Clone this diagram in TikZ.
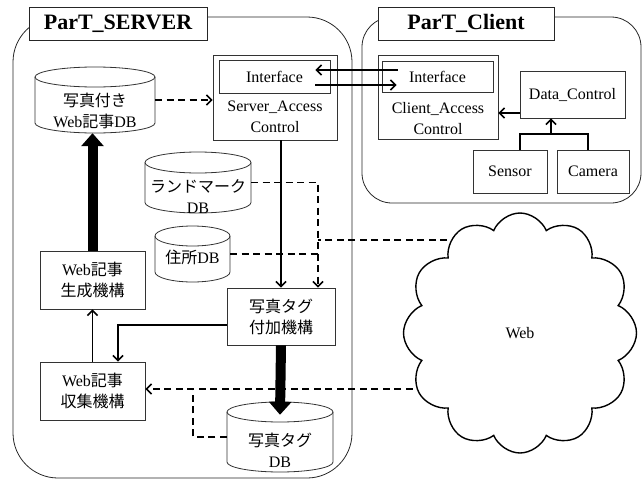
\documentclass[tikz,border=0pt]{standalone}
\usepackage{fontspec}
\setmainfont{Liberation Serif}
\newfontfamily\jp{Noto Sans CJK JP}
\usetikzlibrary{arrows.meta,shapes.symbols,calc}
\newcommand\dbcyl[8]{% name, cx, top, bottom, rx, ry, text y, text
  \path[draw=black!80, line width=0.8pt, fill=white]
    ({#2-#5},{#3+#6}) -- ({#2-#5},{#4-#6})
    arc[start angle=180, end angle=360, x radius=#5pt, y radius=#6pt]
    -- ({#2+#5},{#3+#6})
    arc[start angle=0, end angle=180, x radius=#5pt, y radius=#6pt] -- cycle;
  \draw[black!80, line width=0.8pt] ({#2-#5},{#3+#6})
    arc[start angle=180, end angle=360, x radius=#5pt, y radius=#6pt];
  \node[inner sep=0pt, minimum width={2*#5}, minimum height={#4-#3}] (#1) at (#2,{(#3+#4)/2}) {};
  \node[align=center] at (#2,#7) {#8};
}
\begin{document}
\begin{tikzpicture}[x=1pt, y=-1pt,
  font=\fontsize{16}{21}\selectfont,
  box/.style={draw=black!80, line width=0.8pt, fill=white, inner sep=0pt, align=center},
  frame/.style={draw=black!85, line width=0.8pt, rounded corners=#1},
  titlebox/.style={draw=black!85, line width=0.8pt, fill=white, inner sep=0pt,
    font=\fontsize{22}{26}\selectfont\bfseries},
  conn/.style={line width=1.6pt, -{Straight Barb[length=5pt,width=10pt]}},
  plain/.style={line width=1.6pt},
  dconn/.style={line width=1.6pt, dash pattern=on 7pt off 4.5pt},
  darr/.style={dconn, -{Straight Barb[length=5pt,width=10pt]}},
  bigarrow/.style={line width=10pt, -{Triangle[length=13pt,width=22pt]}}
]
\useasboundingbox (0,0) rectangle (643,482);

% frames
\draw[frame=45pt] (13,17) rectangle (352,478);
\draw[frame=30pt] (362,17) rectangle (641,203);
\node[titlebox, minimum width=178, minimum height=33] (srvtitle) at (118,23.5) {ParT\_SERVER};
\node[titlebox, minimum width=176, minimum height=33] (clititle) at (466,23.5) {ParT\_Client};

% server boxes
\node[box, minimum width=124, minimum height=85] (sac) at (275,97.5) {};
\node[box, minimum width=111, minimum height=33] (sif) at (274.5,76.5) {Interface};
\node[align=center] (sactext) at (275,117) {Server\_Access\\Control};
\node[box, minimum width=108, minimum height=57] (pta) at (281,316.5) {{\jp 写真タグ}\\{\jp 付加機構}};
\node[box, minimum width=105, minimum height=58] (wgen) at (92.5,280) {Web{\jp 記事}\\{\jp 生成機構}};
\node[box, minimum width=105, minimum height=58] (wcol) at (92.5,391) {Web{\jp 記事}\\{\jp 収集機構}};

% client boxes
\node[box, minimum width=120, minimum height=84] (cac) at (438,97) {};
\node[box, minimum width=111, minimum height=31] (cif) at (437.5,76.5) {Interface};
\node[align=center] (cactext) at (438,119) {Client\_Access\\Control};
\node[box, minimum width=105, minimum height=47] (dc) at (572.5,94.5) {Data\_Control};
\node[box, minimum width=74, minimum height=43] (sensor) at (510,171.5) {Sensor};
\node[box, minimum width=72, minimum height=43] (camera) at (593,171.5) {Camera};

% databases
\dbcyl{db1}{95}{67}{133}{60}{10}{111}{{\jp 写真付き}\\Web{\jp 記事}DB}
\dbcyl{db2}{198}{152}{213}{53}{10.5}{197}{{\jp ランドマーク}\\DB}
\dbcyl{db3}{192.5}{226}{282}{37.5}{10}{257}{{\jp 住所}DB}
\dbcyl{db4}{280}{402}{472}{53}{10}{450}{{\jp 写真タグ}\\DB}

% interface arrows
\draw[conn] ([xshift=16pt,yshift=6.5pt]cif.west) -- ([xshift=-15pt,yshift=6.5pt]sif.east);
\draw[conn] ([xshift=-15pt,yshift=-8.5pt]sif.east) -- ([xshift=15pt,yshift=-8.5pt]cif.west);

% client internal
\coordinate (dcout) at ([yshift=-18.5pt]dc.west);
\draw[conn] (dcout) -- (dcout -| cac.east);
\coordinate (sn) at ([xshift=10pt]sensor.north);
\coordinate (cn) at ([xshift=-5pt]camera.north);
\coordinate (jn) at (551,134);
\draw[plain] (sn) |- (jn) -| (cn);
\draw[conn] (jn) -- (jn |- dc.south);

% server internal
\draw[darr] (db1.east) -- (db1.east -| sac.west);
\draw[conn] (pta.north |- sac.south) -- (pta.north);
\coordinate (ptin) at ([xshift=37pt]pta.north);
\draw[darr] (db2.east) -| (ptin);
\draw[dconn] (db3.east) -- (db3.east -| ptin);
\coordinate (webin) at (470,240);
\draw[dconn] (webin) -- (webin -| ptin);
\draw[bigarrow] (wgen.north) -- (wgen.north |- db1.south);
\draw[conn] (wcol.north) -- (wgen.south);
\coordinate (pl) at ([yshift=-8.5pt]pta.west);
\coordinate (wc2) at ([xshift=25.5pt]wcol.north);
\draw[conn] (pl) -| (wc2);
\coordinate (dbtip) at ([yshift=-13pt]db4.north);
\draw[bigarrow] (pta.south) -- (dbtip);
\coordinate (webin2) at (470,389);
\draw[darr] (webin2) -- (webin2 -| wcol.east);
\coordinate (dj2) at (193,389);
\draw[dconn] (db4.west) -| (dj2);

% cloud
\node[cloud, cloud puffs=12, cloud puff arc=135, aspect=1, cloud ignores aspect,
  draw, line width=1.4pt, fill=white, inner sep=0pt,
  minimum width=233pt, minimum height=240pt] (web) at (520,333) {Web};
\end{tikzpicture}
\end{document}
